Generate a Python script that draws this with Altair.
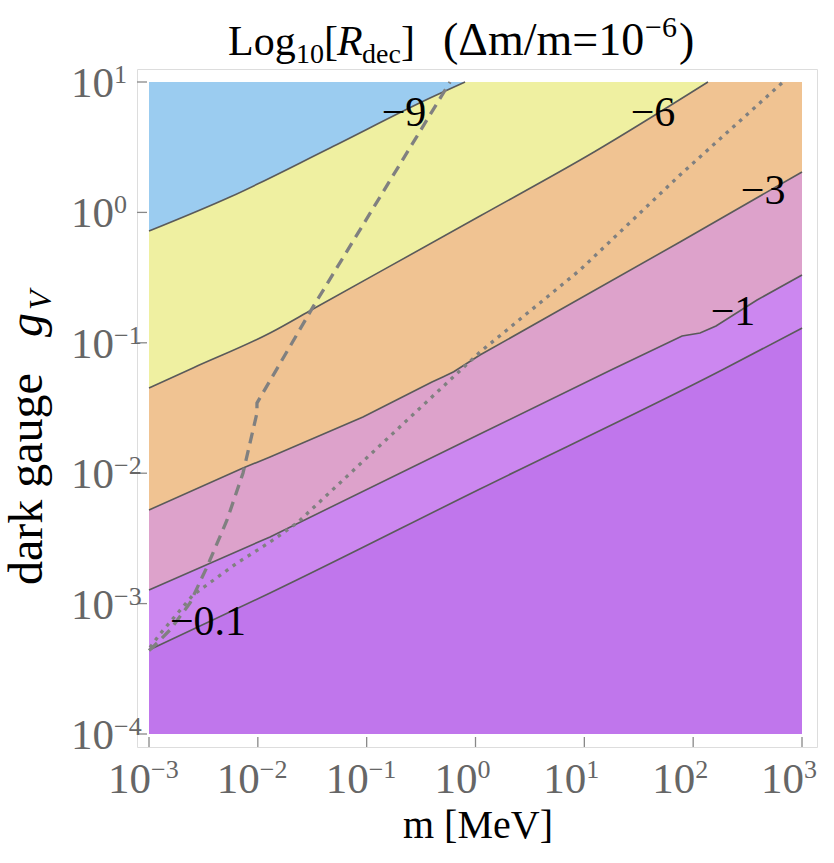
import altair as alt
import pandas as pd

# ---------------- data (log10 m [MeV], log10 g_V) ----------------
lvl9_x = [-3.0, -2.256, -1.337, -0.418, -0.096]
lvl9_y = [-0.143, 0.118, 0.494, 0.877, 1.0]

lvl6_x = [-3.0, -2.596, -1.888, -1.493, 0.041, 1.089, 2.136]
lvl6_y = [-1.347, -1.193, -0.925, -0.741, -0.028, 0.463, 1.0]

lvl3_x = [-3.0, -2.136, -1.888, -1.034, -0.40, -0.30, -0.20, 0.041, 1.879, 3.0]
lvl3_y = [-2.282, -1.960, -1.876, -1.569, -1.300, -1.262, -1.222, -1.094, -0.227, 0.310]

lvl1_x = [-3.0, -1.888, 0.041, 1.245, 1.898, 2.063, 2.210, 2.587, 3.0]
lvl1_y = [-2.896, -2.489, -1.699, -1.209, -0.948, -0.925, -0.871, -0.672, -0.480]

lvl01_x = [-3.0, -1.888, 0.041, 2.265, 3.0]
lvl01_y = [-3.356, -2.919, -2.121, -1.209, -0.887]

dash_x = [-3.0, -2.963, -2.807, -2.623, -2.467, -2.283, -2.136, -2.008, -2.008, -1.493, -0.234]
dash_y = [-3.36, -3.333, -3.202, -2.995, -2.719, -2.359, -1.998, -1.538, -1.462, -0.725, 1.0]

dot_x = [-2.991, -2.899, -2.596, -2.191, -1.888, -1.640, 0.041, 0.960, 1.879, 2.826]
dot_y = [-3.337, -3.233, -2.934, -2.689, -2.528, -2.382, -1.071, -0.442, 0.287, 1.0]

label_text = ["\u22129", "\u22126", "\u22123", "\u22121", "\u22120.1"]
label_x = [-0.657, 1.631, 2.642, 2.366, -2.458]
label_y = [0.762, 0.762, 0.164, -0.764, -3.141]

x_ticks = [1e-3, 1e-2, 1e-1, 1e0, 1e1, 1e2, 1e3]
x_exp = ["\u22123", "\u22122", "\u22121", "0", "1", "2", "3"]
y_ticks = [1e-4, 1e-3, 1e-2, 1e-1, 1e0, 1e1]
y_exp = ["\u22124", "\u22123", "\u22122", "\u22121", "0", "1"]

m_range = [1e-3, 1e3]
g_range = [1e-4, 1e1]

col_blue = "#9bccf0"
col_yellow = "#eff0a1"
col_orange = "#f0c392"
col_pink = "#dda2cb"
col_lpurple = "#cc87f0"
col_purple = "#c076ec"

# ---------------- chart ----------------
W, H = 680, 678
FONT = "Liberation Serif"
xscale = alt.Scale(type="log", domain=[10 ** -3.1103, 10 ** 3.1378], nice=False)
yscale = alt.Scale(type="log", domain=[10 ** -4.0997, 10 ** 1.0997], nice=False)


def curve(xs, ys):
    return pd.DataFrame({"m": [10 ** v for v in xs], "g": [10 ** v for v in ys]})


X = alt.X("m:Q", scale=xscale, axis=None)
Y = alt.Y("g:Q", scale=yscale, axis=None)

layers = []

base = pd.DataFrame({"m": [m_range[0]], "m2": [m_range[1]], "g": [g_range[0]], "g2": [g_range[1]]})
layers.append(alt.Chart(base).mark_rect(color=col_purple).encode(x=X, x2="m2:Q", y=Y, y2="g2:Q"))

regions = [
    (lvl01_x, lvl01_y, col_lpurple, "monotone"),
    (lvl1_x, lvl1_y, col_pink, "linear"),
    (lvl3_x, lvl3_y, col_orange, "linear"),
    (lvl6_x, lvl6_y, col_yellow, "monotone"),
    (lvl9_x, lvl9_y, col_blue, "monotone"),
]
for xs, ys, c, ip in regions:
    layers.append(
        alt.Chart(curve(xs, ys)).mark_area(color=c, opacity=1, interpolate=ip).encode(
            x=X, y=Y, y2=alt.datum(g_range[1])
        )
    )
for xs, ys, c, ip in regions:
    layers.append(
        alt.Chart(curve(xs, ys)).mark_line(color="#5a5a5a", strokeWidth=1.6, interpolate=ip).encode(x=X, y=Y)
    )

layers.append(
    alt.Chart(curve(dash_x, dash_y)).mark_line(color="#808080", strokeWidth=3.3, strokeDash=[11, 7]).encode(x=X, y=Y)
)
layers.append(
    alt.Chart(curve(dot_x, dot_y)).mark_line(color="#808080", strokeWidth=3.3, strokeDash=[3.5, 5.5]).encode(x=X, y=Y)
)

labels = pd.DataFrame({"m": [10 ** v for v in label_x], "g": [10 ** v for v in label_y], "t": label_text})
layers.append(
    alt.Chart(labels).mark_text(font=FONT, fontSize=42, color="black", baseline="middle", align="center").encode(
        x=X, y=Y, text="t:N"
    )
)

# ticks
xt = pd.DataFrame({"m": x_ticks, "e": x_exp})
yt = pd.DataFrame({"g": y_ticks, "e": y_exp})
layers.append(alt.Chart(xt).mark_rule(color="#888888", strokeWidth=1.3).encode(x=X, y=alt.value(H), y2=alt.value(H - 10)))
layers.append(alt.Chart(yt).mark_rule(color="#888888", strokeWidth=1.3).encode(y=Y, x=alt.value(0), x2=alt.value(10)))

# tick labels
layers.append(
    alt.Chart(xt).mark_text(font=FONT, fontSize=43, color="#666666", align="right", baseline="alphabetic", dx=2).encode(
        x=X, y=alt.value(H + 46), text=alt.value("10")
    )
)
layers.append(
    alt.Chart(xt).mark_text(font=FONT, fontSize=26, color="#666666", align="left", baseline="alphabetic", dx=2).encode(
        x=X, y=alt.value(H + 31), text="e:N"
    )
)
layers.append(
    alt.Chart(yt).mark_text(font=FONT, fontSize=43, color="#666666", align="right", baseline="alphabetic", dy=15).encode(
        y=Y, x=alt.value(-23), text=alt.value("10")
    )
)
layers.append(
    alt.Chart(yt).mark_text(font=FONT, fontSize=26, color="#666666", align="left", baseline="alphabetic", dy=1).encode(
        y=Y, x=alt.value(-23), text="e:N"
    )
)

# titles
def txt(t, x, y, size, style="normal", angle=0):
    return alt.Chart(pd.DataFrame({"t": [t]})).mark_text(
        font=FONT, fontSize=size, color="black", align="left", baseline="alphabetic", fontStyle=style, angle=angle
    ).encode(x=alt.value(x), y=alt.value(y), text="t:N")


L0 = 137
T0 = 69
ty = 55 - T0
layers += [
    txt("Log", 228 - L0, ty, 42),
    txt("10", 296 - L0, ty + 8, 28),
    txt("[", 324 - L0, ty, 42),
    txt("R", 337 - L0, ty, 42, "italic"),
    txt("dec", 362 - L0, ty + 8, 28),
    txt("]", 401 - L0, ty, 42),
    txt("(\u0394m/m=10", 443 - L0, ty, 46),
    txt("\u22126", 645 - L0, ty - 18, 30),
    txt(")", 679 - L0, ty, 46),
    txt("m [MeV]", 403 - L0, 838 - T0, 40),
    txt("dark gauge", 42 - L0, 585 - T0, 48, angle=270),
    txt("g", 42 - L0, 337 - T0, 48, "italic", angle=270),
    txt("V", 51 - L0, 310 - T0, 32, "italic", angle=270),
]

chart = (
    alt.layer(*layers)
    .properties(width=W, height=H, autosize="none", padding={"left": L0, "top": T0, "right": 834 - L0 - W, "bottom": 863 - T0 - H})
    .configure_view(stroke="#8a8a8a", strokeWidth=1.4)
    .configure(background="white")
)

chart.save("out.html", embed_options={"renderer": "svg", "actions": False})
